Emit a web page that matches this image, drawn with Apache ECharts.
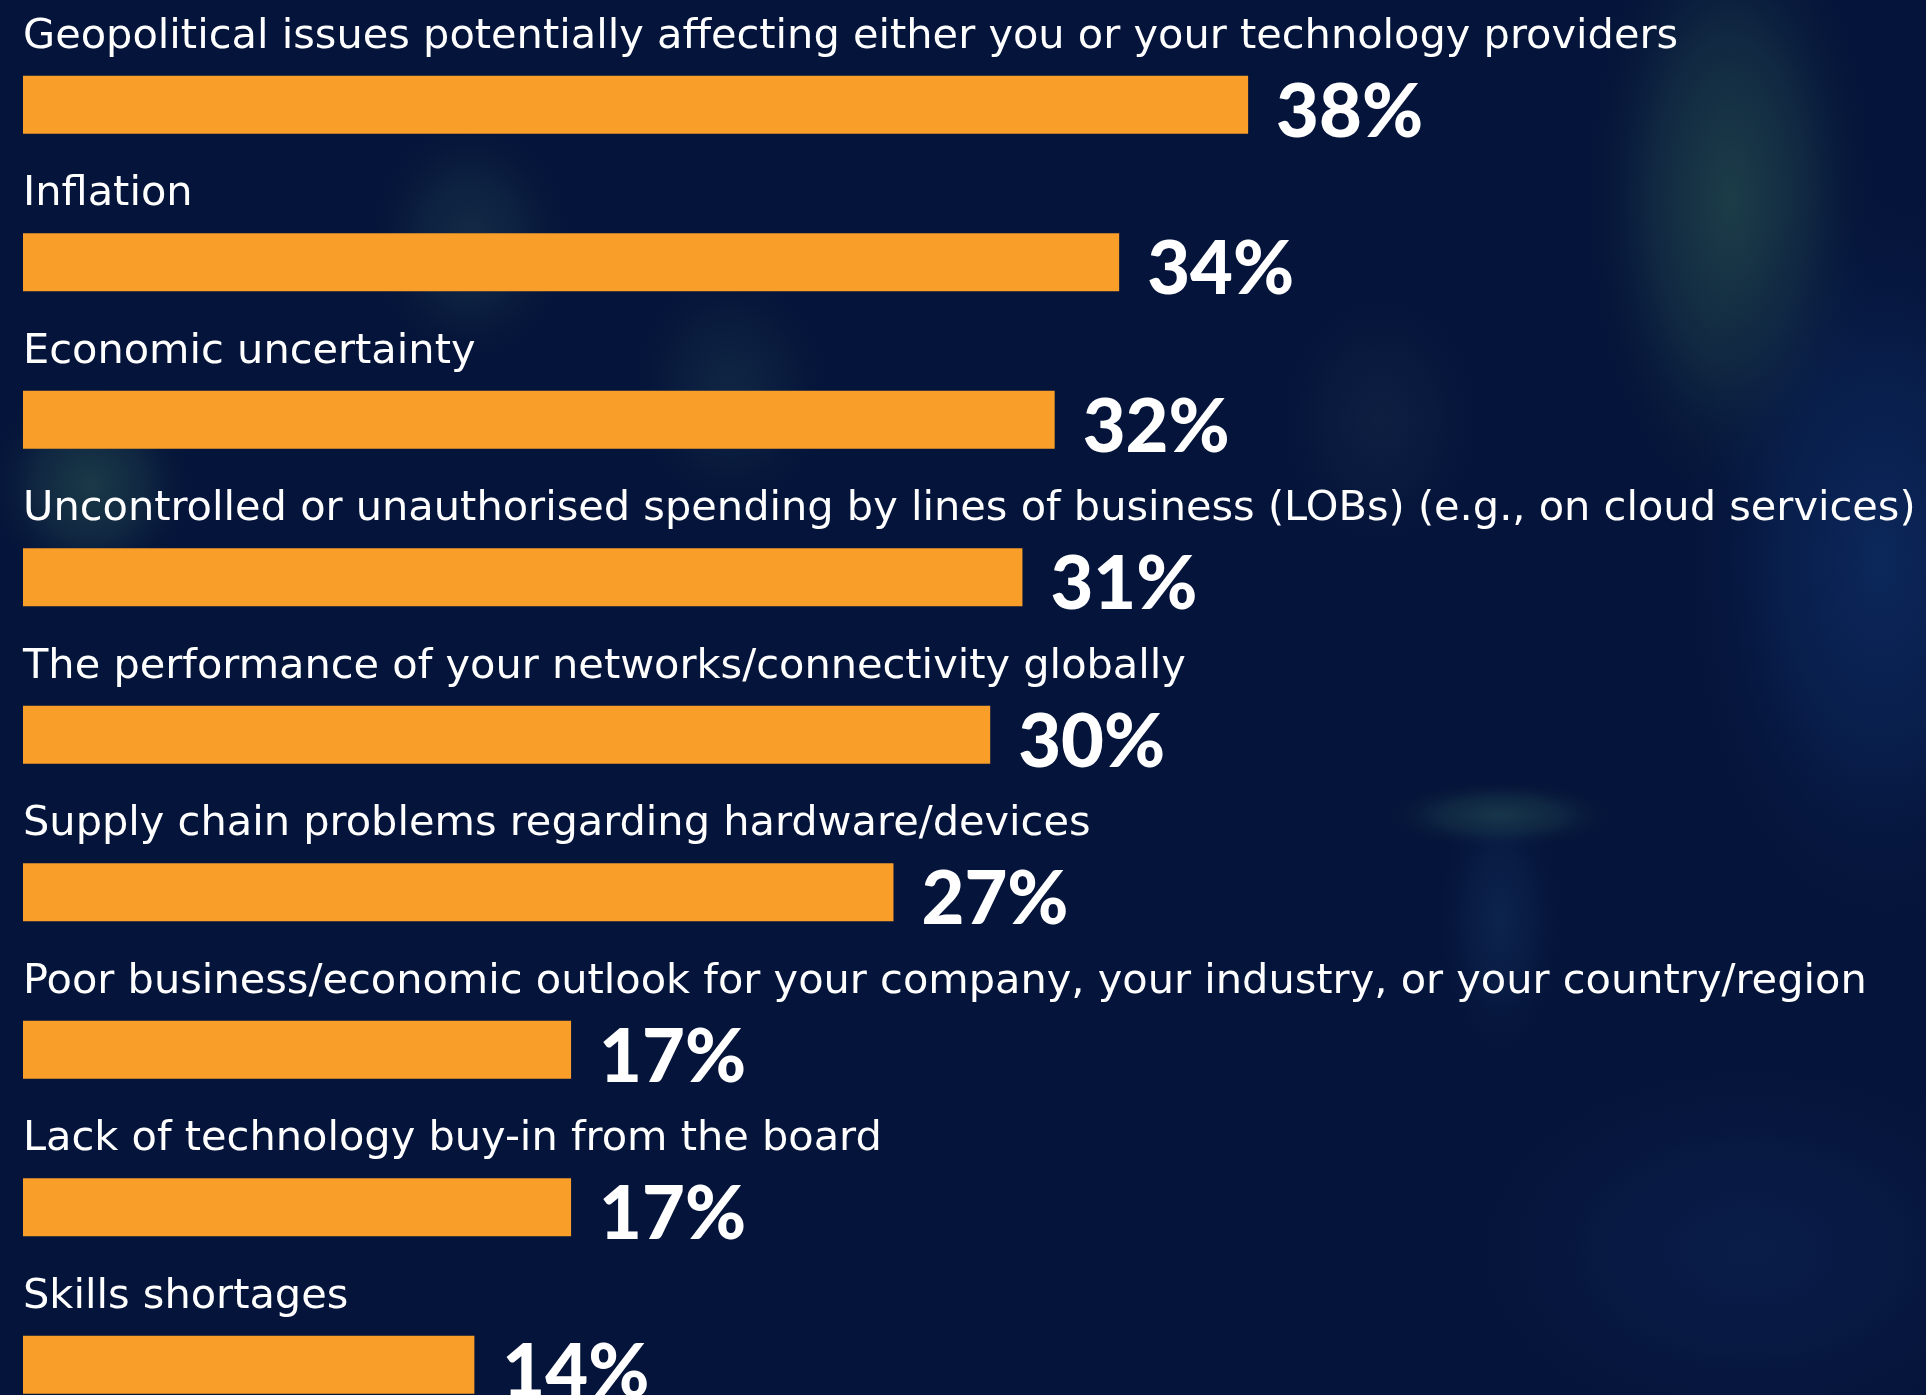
<!DOCTYPE html>
<html>
<head>
<meta charset="utf-8">
<title>Concerns</title>
<script src="https://cdn.jsdelivr.net/npm/echarts@6/dist/echarts.min.js"></script>
<style>
  html, body { margin: 0; padding: 0; background: #05143a; overflow: hidden; }
  /* taller than the window: the last bar is cut by the page edge like in the source */
  #chart { width: 1926px; height: 1460px; }
</style>
</head>
<body>
<div id="chart"></div>
<script>
var categories = [
  'Geopolitical issues potentially affecting either you or your technology providers',
  'Inflation',
  'Economic uncertainty',
  'Uncontrolled or unauthorised spending by lines of business (LOBs) (e.g., on cloud services)',
  'The performance of your networks/connectivity globally',
  'Supply chain problems regarding hardware/devices',
  'Poor business/economic outlook for your company, your industry, or your country/region',
  'Lack of technology buy-in from the board',
  'Skills shortages'
]
var values = [38, 34, 32, 31, 30, 27, 17, 17, 14]

// soft blurred lights in the background photo
function glow(cx, cy, r, color, sx, sy) {
  return {
    type: 'circle',
    silent: true,
    z: -10,
    x: cx,
    y: cy,
    scaleX: sx || 1,
    scaleY: sy || 1,
    shape: { cx: 0, cy: 0, r: r },
    style: {
      fill: {
        type: 'radial', x: 0.5, y: 0.5, r: 0.5,
        colorStops: [
          { offset: 0, color: color },
          { offset: 0.5, color: color.replace(/[\d.]+\)$/, function (a) { return (parseFloat(a) * 0.5) + ')' }) },
          { offset: 1, color: 'rgba(5,20,58,0)' }
        ]
      }
    }
  }
}

var chart = echarts.init(document.getElementById('chart'))
chart.setOption({
  backgroundColor: '#05143a',
  animation: false,
  graphic: [
    glow(1730, 200, 220, 'rgba(38,78,78,0.7)', 0.7, 1.5),
    glow(1880, 560, 300, 'rgba(16,52,112,0.6)', 0.7, 1.3),
    glow(1500, 815, 120, 'rgba(40,85,85,0.55)', 1.0, 0.3),
    glow(1500, 920, 110, 'rgba(22,58,104,0.4)', 0.6, 1.3),
    glow(90, 485, 110, 'rgba(40,82,80,0.6)', 1, 1),
    glow(470, 240, 110, 'rgba(40,75,85,0.4)', 1, 1.2),
    glow(730, 390, 110, 'rgba(40,75,85,0.3)', 1, 1.2),
    glow(1380, 420, 140, 'rgba(30,50,80,0.35)', 0.8, 1),
    glow(1750, 1250, 260, 'rgba(18,45,100,0.35)', 1.2, 0.8)
  ],
  grid: {
    left: 23,
    top: 26,
    width: 1612,
    height: 1417.5,
    containLabel: false
  },
  xAxis: {
    type: 'value',
    min: 0,
    max: 50,
    show: false
  },
  yAxis: {
    type: 'category',
    inverse: true,
    data: categories,
    axisLine: { show: false },
    axisTick: { show: false },
    splitLine: { show: false },
    axisLabel: {
      inside: true,
      interval: 0,
      margin: 0,
      align: 'left',
      verticalAlign: 'bottom',
      padding: [0, 0, 47, 0],
      color: '#ffffff',
      fontFamily: 'DejaVu Sans',
      fontSize: 41.5
    }
  },
  series: [{
    type: 'bar',
    data: values,
    barWidth: 58,
    itemStyle: {
      color: '#f99e28'
    },
    label: {
      show: true,
      position: 'right',
      distance: 28,
      offset: [0, 8],
      formatter: '{c}%',
      color: '#ffffff',
      fontFamily: 'Lato',
      fontWeight: 900,
      fontSize: 74
    }
  }]
})
</script>
</body>
</html>
